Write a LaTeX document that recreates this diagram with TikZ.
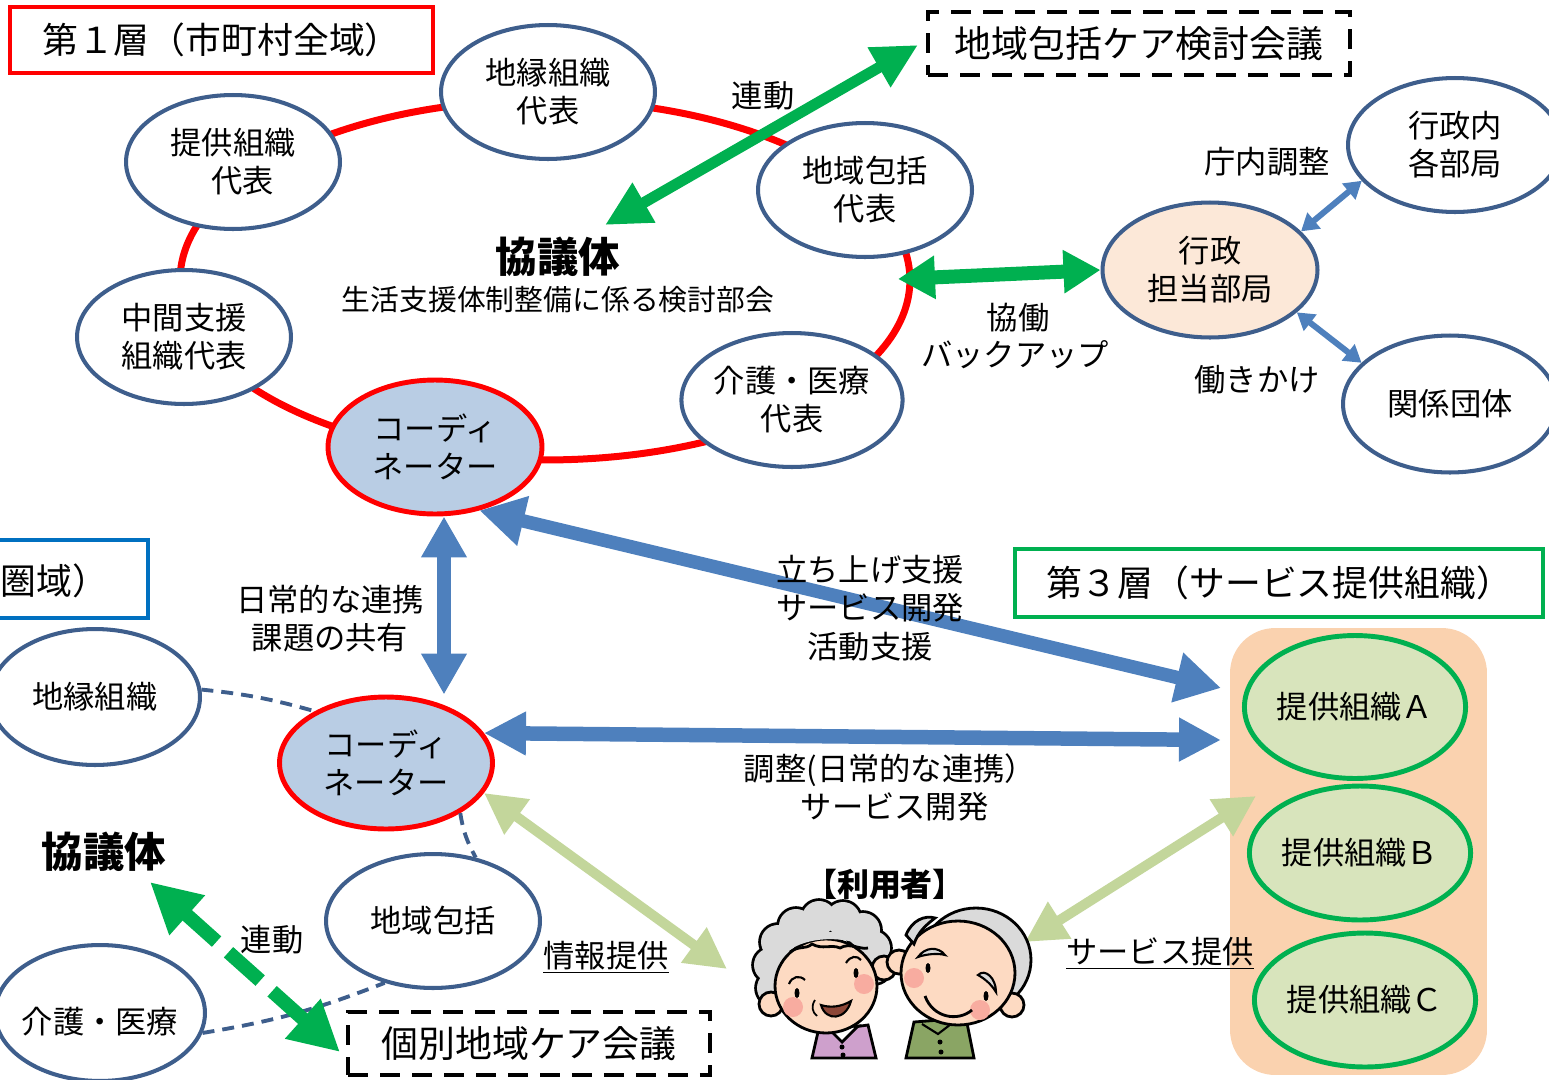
\documentclass[tikz,border=0pt]{standalone}
\usepackage{fontspec}
\setmainfont{Noto Sans CJK JP}
\usetikzlibrary{arrows.meta,shapes.geometric,calc}

\definecolor{nodeedge}{RGB}{62,94,140}
\definecolor{ringred}{RGB}{255,0,0}
\definecolor{linkgreen}{RGB}{0,176,80}
\definecolor{linkblue}{RGB}{78,128,189}
\definecolor{coordfill}{RGB}{185,205,228}
\definecolor{adminfill}{RGB}{252,232,216}
\definecolor{palegreen}{RGB}{195,214,155}
\definecolor{provfill}{RGB}{216,228,188}
\definecolor{peach}{RGB}{250,210,175}
\definecolor{layerblue}{RGB}{0,112,192}
\definecolor{hairgrey}{RGB}{218,218,218}
\definecolor{skin}{RGB}{253,218,194}
\definecolor{cheek}{RGB}{248,172,160}
\definecolor{blouse}{RGB}{206,160,204}
\definecolor{shirt}{RGB}{138,165,100}
\definecolor{mouthbrown}{RGB}{140,70,55}

\newcommand\fsNode{\fontsize{17.8pt}{21.6pt}\selectfont}
\newcommand\fsTitle{\fontsize{20.4pt}{24pt}\selectfont}
\newcommand\fsMeet{\fontsize{21pt}{24pt}\selectfont}
\newcommand\fsBig{\fontsize{23.6pt}{27pt}\selectfont\bfseries}
\newcommand\fsSub{\fontsize{16.4pt}{20pt}\selectfont}

\begin{document}
\begin{tikzpicture}[x=0.02cm, y=-0.02cm,
  member/.style={ellipse, draw=nodeedge, line width=2.3pt, fill=white,
    minimum width=4.28cm, minimum height=2.68cm, inner sep=0pt,
    align=center, font=\fsNode},
  coordinator/.style={member, fill=coordfill, draw=ringred, line width=2.8pt},
  provider/.style={member, fill=provfill, draw=linkgreen, line width=2.8pt},
  notetext/.style={align=center, font=\fsNode, inner sep=0pt},
  layerbox/.style={draw, line width=2.4pt, fill=white, inner sep=0pt},
  meetbox/.style={draw=black, line width=2.4pt, dash pattern=on 0.4cm off 0.24cm,
    fill=white, inner sep=0pt, font=\fsMeet},
  bluebig/.style={draw=linkblue, line width=0.27cm,
    {Triangle[width=0.86cm,length=0.82cm]}-{Triangle[width=0.86cm,length=0.82cm]}},
  bluesmall/.style={draw=linkblue, line width=0.12cm,
    {Triangle[width=0.4cm,length=0.34cm]}-{Triangle[width=0.4cm,length=0.34cm]}},
  greenlink/.style={draw=linkgreen, line width=0.22cm,
    {Triangle[width=0.86cm,length=0.9cm]}-{Triangle[width=0.86cm,length=0.9cm]}},
  palelink/.style={draw=palegreen, line width=0.2cm,
    {Triangle[width=0.82cm,length=0.82cm]}-{Triangle[width=0.82cm,length=0.82cm]}},
  tielink/.style={draw=nodeedge, line width=2.2pt, dash pattern=on 0.24cm off 0.16cm},
  outline/.style={draw=black, line width=1.6pt},
]
\useasboundingbox (0,0) rectangle (1549,1079);

% ---------------- first tier ----------------
\draw[ringred, line width=0.14cm] (545,280) ellipse [x radius=7.3cm, y radius=3.6cm];

\node[member] (ptop) at (548,92) {地縁組織\\代表};
\node[member] (pprov) at (233,162) {提供組織\\\hspace{0.6em}代表};
\node[member] (pmid) at (184,337) {中間支援\\組織代表};
\node[member] (phub) at (865,190) {地域包括\\代表};
\node[member] (pcare) at (792,400) {介護・医療\\代表};
\node[coordinator] (coordA) at (435,447) {コーディ\\ネーター};

\node[member, fill=adminfill, minimum width=4.3cm, minimum height=2.7cm] (admin) at (1210,270) {行政\\担当部局};
\node[member] (depts) at (1455,145) {行政内\\各部局};
\node[member, minimum height=2.74cm] (groups) at (1450,404) {関係団体};

\node[layerbox, draw=ringred, minimum width=8.46cm, minimum height=1.32cm,
      font=\fsTitle] (tier1) at (221.5,40) {第１層（市町村全域）\hspace{0.5em}};
\node[meetbox, minimum width=8.44cm, minimum height=1.26cm] (areameet) at (1139,43.5) {地域包括ケア検討会議};

\node[font=\fsBig, inner sep=0pt] (council) at (558,257) {協議体};
\node[font=\fsSub, inner sep=0pt] (councilsub) at (558,300) {生活支援体制整備に係る検討部会};

\coordinate (councilend) at (605,225);
\coordinate (meetend) at (918,45);
\draw[greenlink] (councilend) -- (meetend);
\node[notetext] (linkA) at (763,96) {連動};

\coordinate (ringend) at (898,279);
\draw[greenlink, line width=0.28cm,
  {Triangle[width=0.82cm,length=0.74cm]}-{Triangle[width=0.82cm,length=0.74cm]}]
  (ringend) -- (admin.west);
\node[notetext] (cowork) at (1018,318) {協働};
\node[notetext] (backup) at (1015,355) {バックアップ};

\draw[bluesmall] (admin.23) -- (depts.201);
\draw[bluesmall] (admin.-26) -- (groups.155);
\node[notetext] (adjust) at (1267,162) {庁内調整};
\node[notetext] (approach) at (1257,380) {働きかけ};

% ---------------- second tier ----------------
\node[layerbox, draw=layerblue, minimum width=3.06cm, minimum height=1.56cm] (tier2) at (71.5,579) {};
\node[font=\fsTitle, inner sep=0pt, anchor=west] (tier2text) at (0,581) {圏域）};

\node[member, minimum width=4.2cm, minimum height=2.72cm] (lneigh) at (95,697) {地縁組織};
\node[member] (lhub) at (433,921) {地域包括};
\node[member, minimum width=4.2cm, minimum height=2.72cm] (lcare) at (100,1013) {};
\node[notetext] (lcaretext) at (100,1022) {介護・医療};
\node[coordinator, minimum width=4.26cm, minimum height=2.64cm] (coordB) at (386,763) {コーディ\\ネーター};

\draw[tielink] (lneigh.4) to[bend left=5] (coordB.144);
\draw[tielink] (coordB.-34) to[bend right=10] (lhub.56);
\draw[tielink] (lcare.-11) to[bend right=6] (lhub.232);

\node[font=\fsBig, inner sep=0pt] (lcouncil) at (104,852) {協議体};
\node[meetbox, minimum width=7.24cm, minimum height=1.26cm] (localmeet) at (529,1043.5) {個別地域ケア会議};

\coordinate (lcouncilend) at (150,882);
\coordinate (localmeetend) at (340,1052);
\draw[greenlink, line width=0.28cm, dash pattern=on 0.85cm off 0.32cm,
  {Triangle[width=1cm,length=1cm]}-{Triangle[width=1cm,length=1cm]}]
  (lcouncilend) -- (localmeetend);
\node[notetext] (linkB) at (272,940) {連動};

% ---------------- third tier ----------------
\node[layerbox, draw=linkgreen, minimum width=10.56cm, minimum height=1.36cm,
      font=\fsTitle] (tier3) at (1279,583) {第３層（サービス提供組織）};
\node[draw=none, fill=peach, rounded corners=0.9cm, minimum width=5.14cm,
      minimum height=8.94cm, inner sep=0pt] (tier3bg) at (1358.5,851.5) {};
\node[provider, minimum height=2.86cm] (provA) at (1355,707) {提供組織Ａ};
\node[provider] (provB) at (1360,853) {提供組織Ｂ};
\node[provider] (provC) at (1365,1000) {提供組織Ｃ};

% ---------------- links between tiers ----------------
\coordinate (vline) at (444,0);
\draw[bluebig] (coordA.south -| vline) -- (coordB.north -| vline);
\node[notetext] (sharing) at (330,619) {日常的な連携\\課題の共有};

\coordinate (provAup) at (1221,688);
\draw[bluebig, {Triangle[width=0.96cm,length=0.9cm]}-{Triangle[width=0.96cm,length=0.9cm]}]
  (coordA.-55) -- (provAup);
\node[notetext, font=\fontsize{17.8pt}{22pt}\selectfont] (launch) at (870,608) {立ち上げ支援\\サービス開発\\活動支援};

\coordinate (provAleft) at (1221,740);
\draw[bluebig, line width=0.29cm, {Triangle[width=0.82cm,length=0.84cm]}-{Triangle[width=0.82cm,length=0.84cm]}]
  (coordB.17) -- (provAleft);
\node[notetext] (coordinate-text) at (890,787) {調整(日常的な連携）\\\hspace{0.3em}サービス開発};

% ---------------- users ----------------
\node[font=\fontsize{18.2pt}{20pt}\selectfont\bfseries, inner sep=0pt] (users) at (885,884) {【利用者】};

\coordinate (userL) at (727,969);
\coordinate (userR) at (1025,942);
\coordinate (provBleft) at (1256,796);
\draw[palelink] (coordB.-17) -- (userL);
\draw[palelink] (userR) -- (provBleft);
\node[notetext] (info) at (606,957) {\underline{情報提供}};
\node[notetext] (service) at (1160,953) {\underline{サービス提供}};

% woman
\filldraw[outline, fill=blouse] (812,1058) -- (818,1032) -- (868,1025) -- (876,1058) -- cycle;
\filldraw[outline, fill=white] (828,1028) -- (842,1042) -- (858,1026) -- cycle;
\fill (842,1047) circle[radius=0.05cm] (843,1055) circle[radius=0.05cm];
\foreach \p in {(774,988),(771,965),(778,942),(796,926),(819,918),(843,919),(863,930),(873,948),(874,966)}
  \draw[line width=3.2pt] \p circle[radius=0.34cm];
\foreach \p in {(774,988),(771,965),(778,942),(796,926),(819,918),(843,919),(863,930),(873,948),(874,966)}
  \fill[hairgrey] \p circle[radius=0.34cm];
\filldraw[outline, fill=skin] (771,1004) circle[radius=0.24cm];
\filldraw[outline, fill=skin] (884,968) circle[radius=0.24cm];
\filldraw[outline, fill=skin] (826,986) ellipse [x radius=1.02cm, y radius=0.94cm];
\fill[hairgrey] (790,950) .. controls (805,938) and (845,934) .. (866,948) -- (866,932) -- (790,932) -- cycle;
\draw[outline] (790,952) .. controls (800,945) and (805,950) .. (812,944)
  .. controls (822,950) and (832,944) .. (840,948) .. controls (850,942) and (860,950) .. (868,948);
\fill[cheek] (793,1007) circle[radius=0.2cm] (864,984) circle[radius=0.2cm];
\fill (797,993) ellipse [x radius=0.05cm, y radius=0.1cm];
\fill (856,973) ellipse [x radius=0.05cm, y radius=0.1cm];
\draw[outline, line width=1.2pt] (789,984) .. controls (792,976) and (800,975) .. (805,980);
\draw[outline, line width=1.2pt] (846,963) .. controls (850,956) and (857,955) .. (861,960);
\filldraw[outline, line width=1.2pt, fill=mouthbrown] (821,1005) .. controls (826,1022) and (846,1020) .. (851,1001) .. controls (841,1007) and (830,1008) .. cycle;
\draw[outline, line width=1pt] (815,1000) .. controls (811,1006) and (812,1012) .. (817,1016);

% man
\filldraw[outline, fill=shirt] (906,1058) -- (914,1022) -- (966,1018) -- (974,1058) -- cycle;
\draw[outline, line width=1.2pt] (922,1024) -- (938,1034) -- (955,1021);
\fill (940,1042) circle[radius=0.05cm] (941,1052) circle[radius=0.05cm];
\filldraw[outline, fill=hairgrey] (976,960) ellipse [x radius=1.1cm, y radius=1.04cm];
\filldraw[outline, fill=skin] (899,962) circle[radius=0.24cm];
\filldraw[outline, fill=skin] (1012,1005) circle[radius=0.24cm];
\filldraw[outline, fill=skin] (958,973) ellipse [x radius=1.14cm, y radius=1.04cm];
\filldraw[outline, fill=hairgrey] (906,935) .. controls (912,920) and (925,915) .. (935,918)
  .. controls (926,925) and (918,932) .. (914,944) -- cycle;
\fill[cheek] (914,978) circle[radius=0.2cm] (980,1010) circle[radius=0.2cm];
\filldraw[outline, line width=1.2pt, fill=hairgrey] (918,957) .. controls (925,947) and (938,946) .. (945,955) .. controls (938,953) and (926,954) .. cycle;
\filldraw[outline, line width=1.2pt, fill=hairgrey] (978,975) .. controls (985,968) and (996,978) .. (996,992) .. controls (991,984) and (985,979) .. cycle;
\fill (928,968) ellipse [x radius=0.05cm, y radius=0.1cm];
\fill (986,996) ellipse [x radius=0.05cm, y radius=0.1cm];
\draw[outline] (925,996) .. controls (933,1018) and (958,1022) .. (972,1010);
\end{tikzpicture}
\end{document}
